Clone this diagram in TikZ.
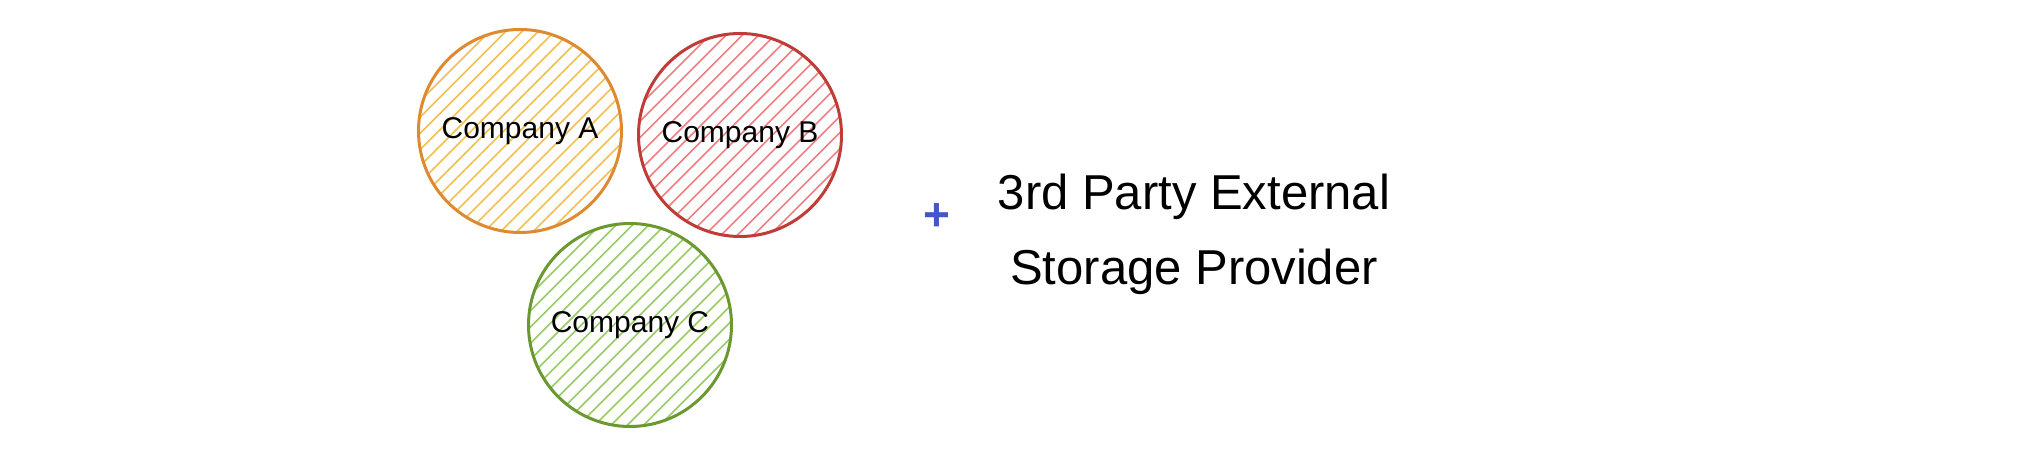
\documentclass[tikz,border=0pt]{standalone}
\usepackage{fontspec}
\setmainfont{Liberation Sans}
\definecolor{orStroke}{RGB}{222,138,48}
\definecolor{orHatch}{RGB}{245,190,85}
\definecolor{rdStroke}{RGB}{192,60,55}
\definecolor{rdHatch}{RGB}{240,128,128}
\definecolor{grStroke}{RGB}{108,152,50}
\definecolor{grHatch}{RGB}{150,205,100}
\definecolor{plusBlue}{RGB}{68,86,200}
\tikzset{
  hatchline/.style={line width=1.6pt},
  company/.style={circle, draw=#1, line width=3pt, minimum size=203pt,
    inner sep=0pt, font=\fontsize{30}{36}\selectfont, text=black},
  bigtext/.style={align=center, font=\fontsize{49}{75}\selectfont, text=black},
}
\newcommand{\hatchdisc}[2]{%
  \begin{scope}[shift={(#1)}]
    \clip (0,0) circle (101);
    \foreach \d in {-149.5,-138,...,150}
      \draw[hatchline,#2,rotate=45] (-150,\d) -- (150,\d);
  \end{scope}}
\begin{document}
\begin{tikzpicture}[x=1pt,y=1pt]
\useasboundingbox (0,0) rectangle (2018,462);
\fill[white] (0,0) rectangle (2018,462);
\coordinate (cA) at (520,331);
\coordinate (cB) at (740,327);
\coordinate (cC) at (630,137);
\hatchdisc{cA}{orHatch}
\hatchdisc{cB}{rdHatch}
\hatchdisc{cC}{grHatch}
\node[company=orStroke] (A) at (cA) {Company A};
\node[company=rdStroke] (B) at (cB) {Company B};
\node[company=grStroke] (C) at (cC) {Company C};
\node[text=plusBlue, font=\fontsize{46}{50}\selectfont\bfseries] (plus) at (937,245) {+};
\node[bigtext] (ext) at (1194,228) {3rd Party External\\Storage Provider};
\end{tikzpicture}
\end{document}
